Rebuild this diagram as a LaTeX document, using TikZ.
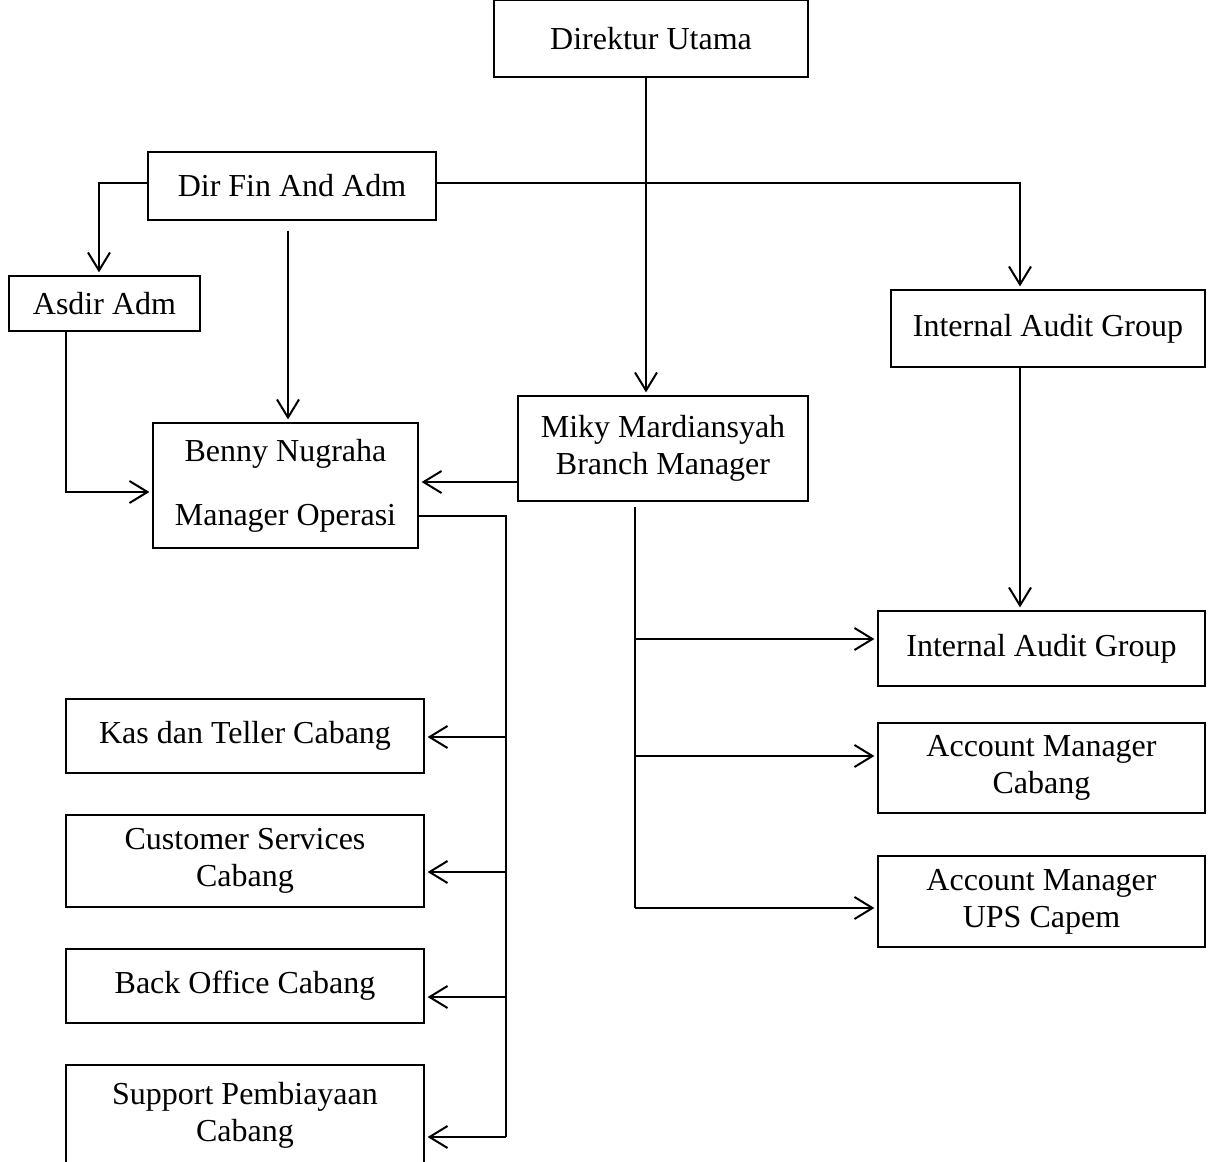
\documentclass[tikz,border=0pt]{standalone}
\usepackage{fontspec}
\setmainfont{Liberation Serif}
\usetikzlibrary{arrows.meta,calc}

\begin{document}
\begin{tikzpicture}[x=0.5pt,y=-0.5pt,
        box/.style={draw, line width=0.6pt, align=center, inner sep=0pt,
                    font=\fontsize{16pt}{18.4pt}\selectfont},
        conn/.style={line width=1pt},
        arr/.style={conn, -{Straight Barb[length=9pt,width=11pt]}, shorten >=1.5pt}]
        \useasboundingbox (0,0) rectangle (1211,1162);

        % Top level
        \node[box, minimum width=157pt, minimum height=38.5pt] (dirut) at (651,38.5) {Direktur Utama};
        \node[box, minimum width=144pt, minimum height=34pt] (dirfin) at (292,186) {Dir Fin And Adm};
        \node[box, minimum width=95.5pt, minimum height=27.5pt] (asdir) at (104.5,303.5) {Asdir Adm};
        \node[box, minimum width=157pt, minimum height=38.5pt] (audit1) at (1048,328.5) {Internal Audit Group};

        % Managers
        \node[box, minimum width=132.5pt, minimum height=62.5pt] (opsmgr) at (285.5,485.5) {Benny Nugraha\\[13.6pt]Manager Operasi};
        \node[box, minimum width=145pt, minimum height=52.5pt] (branchmgr) at (663,448.5) {Miky Mardiansyah\\Branch Manager};

        % Right column
        \node[box, minimum width=163.5pt, minimum height=37.5pt] (audit2) at (1041.5,648.5) {Internal Audit Group};
        \node[box, minimum width=163.5pt, minimum height=45pt] (amcab) at (1041.5,768) {Account Manager\\Cabang};
        \node[box, minimum width=163.5pt, minimum height=45.5pt] (amups) at (1041.5,901.5) {Account Manager\\UPS Capem};

        % Left column
        \node[box, minimum width=179pt, minimum height=37pt] (kas) at (245,736) {Kas dan Teller Cabang};
        \node[box, minimum width=179pt, minimum height=46pt] (cs) at (245,861) {Customer Services\\Cabang};
        \node[box, minimum width=179pt, minimum height=37pt] (backoff) at (245,986) {Back Office Cabang};
        \node[box, minimum width=179pt, minimum height=50pt] (support) at (245,1115) {Support Pembiayaan\\Cabang};

        % Bus lines
        \coordinate (opsbus) at (506,0);
        \coordinate (bmbus) at (635,0);

        % Connectors from the top
        \draw[arr] ([xshift=-2.5pt]dirut.south) -- ([xshift=-2.5pt]dirut.south |- branchmgr.north);
        \draw[arr] ([yshift=1.5pt]dirfin.west) -| ([xshift=-2.75pt]asdir.north);
        \draw[arr] ([xshift=-2pt,yshift=-5pt]dirfin.south) -- ([xshift=-2pt]dirfin.south |- opsmgr.north);
        \draw[arr] ([yshift=1.5pt]dirfin.east) -| ([xshift=-14pt]audit1.north);
        \draw[arr] ([xshift=-14pt]audit1.south) -- ([xshift=-14pt]audit1.south |- audit2.north);
        \draw[arr] ([xshift=-19.25pt]asdir.south) |- ([yshift=-3.25pt]opsmgr.west);
        \draw[arr] ([yshift=-16.75pt]branchmgr.west) -- ([yshift=-16.75pt]branchmgr.west -| opsmgr.east);

        % Manager Operasi branches
        \draw[conn] ([yshift=-15.25pt]opsmgr.east) -| ($(opsbus |- support.east)+(0,22)$);
        \draw[arr] ($(opsbus |- kas.east)+(0,1)$) -- ([yshift=-0.5pt]kas.east);
        \draw[arr] ($(opsbus |- cs.east)+(0,11)$) -- ([yshift=-5.5pt]cs.east);
        \draw[arr] ($(opsbus |- backoff.east)+(0,11)$) -- ([yshift=-5.5pt]backoff.east);
        \draw[arr] ($(opsbus |- support.east)+(0,22)$) -- ([yshift=-11pt]support.east);

        % Branch Manager branches
        \draw[conn] ([xshift=-14pt,yshift=-2.5pt]branchmgr.south) -- ($(bmbus |- amups.west)+(0,6.5)$);
        \draw[arr] ($(bmbus |- audit2.west)+(0,-9.5)$) -- ([yshift=4.75pt]audit2.west);
        \draw[arr] ($(bmbus |- amcab.west)+(0,-12)$) -- ([yshift=6pt]amcab.west);
        \draw[arr] ($(bmbus |- amups.west)+(0,6.5)$) -- ([yshift=-3.25pt]amups.west);
\end{tikzpicture}
\end{document}
